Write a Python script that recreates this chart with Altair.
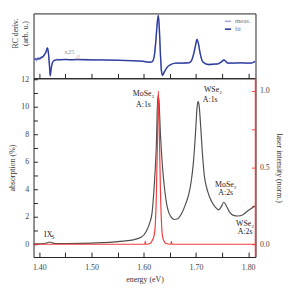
import altair as alt
import pandas as pd

# ---------------- data ----------------
E_MIN, E_MAX = 1.389, 1.814

# absorption (%) - grey curve
E_ABS = [1.389, 1.400, 1.410, 1.415, 1.420, 1.425, 1.430, 1.450, 1.480, 1.500,
         1.520, 1.540, 1.560, 1.580, 1.595, 1.605, 1.611, 1.616, 1.620, 1.624,
         1.627, 1.629, 1.632, 1.636, 1.640, 1.644, 1.648, 1.653, 1.658, 1.665,
         1.672, 1.680, 1.686, 1.691, 1.695, 1.699, 1.702, 1.704, 1.706, 1.709,
         1.712, 1.716, 1.722, 1.730, 1.737, 1.743, 1.748, 1.7535, 1.758, 1.764,
         1.772, 1.780, 1.790, 1.800, 1.808, 1.814]
ABS = [0.02, 0.03, 0.05, 0.10, 0.16, 0.10, 0.05, 0.05, 0.06, 0.08,
       0.11, 0.15, 0.22, 0.32, 0.50, 0.95, 1.50, 2.30, 4.20, 7.00,
       10.8, 10.5, 8.00, 5.60, 4.00, 2.90, 2.30, 1.95, 1.80, 1.85,
       2.20, 2.90, 3.60, 4.60, 5.90, 8.00, 9.90, 10.40, 10.10, 8.60,
       6.80, 5.00, 3.90, 3.10, 2.70, 2.50, 2.70, 3.05, 2.80, 2.35,
       2.10, 2.05, 2.15, 2.45, 2.65, 2.80]

# laser intensity (norm.) - red curve
E_LASER = [1.389, 1.600, 1.602, 1.603, 1.604, 1.606, 1.612, 1.617, 1.620, 1.622,
           1.624, 1.626, 1.628, 1.630, 1.632, 1.634, 1.636, 1.639, 1.643, 1.650,
           1.652, 1.653, 1.654, 1.656, 1.700, 1.814]
LASER = [0.0, 0.0, 0.0, 0.02, 0.0, 0.0, 0.005, 0.03, 0.06, 0.12,
         0.30, 0.62, 1.00, 0.70, 0.35, 0.14, 0.05, 0.02, 0.005, 0.0,
         0.0, 0.02, 0.0, 0.0, 0.0, 0.0]

# RC derivative (arb. u.) - top panel
E_RC = [1.389, 1.392, 1.395, 1.398, 1.401, 1.404, 1.407, 1.410, 1.413, 1.4155,
        1.417, 1.4185, 1.420, 1.421, 1.4225, 1.425, 1.428, 1.433, 1.440, 1.450,
        1.460, 1.474, 1.500, 1.536, 1.570, 1.600, 1.611, 1.616, 1.620, 1.623,
        1.626, 1.628, 1.630, 1.632, 1.634, 1.636, 1.639, 1.645, 1.652, 1.661,
        1.675, 1.686, 1.691, 1.695, 1.699, 1.702, 1.705, 1.708, 1.711, 1.714,
        1.723, 1.735, 1.742, 1.748, 1.7536, 1.757, 1.761, 1.775, 1.786, 1.795,
        1.805, 1.810, 1.814]
RC_FIT = [0.5, 0.5, 0.5, 0.8, 1.2, 2.0, 3.2, 5.0, 8.0, 12.0,
          9.0, 1.0, -10.0, -16.5, -10.0, -3.5, -1.2, -0.4, 0.0, 0.0,
          0.0, 0.0, -0.3, -0.5, -1.0, -1.8, -2.7, -2.2, 3.0, 18.0,
          38.0, 45.0, 30.0, 5.0, -12.0, -16.0, -13.0, -7.7, -5.0, -3.7,
          -3.5, -3.3, -1.5, 4.5, 14.0, 20.7, 15.5, 6.5, 0.0, -2.7,
          -5.0, -4.6, -4.3, -2.6, -0.4, -1.8, -3.6, -3.5, -3.3, -3.5,
          -3.6, -2.8, -1.7]
RC_MEAS = [-0.8, 1.6, -1.2, 2.0, 0.2, 2.8, 2.4, 5.5, 7.6, 12.0,
           9.0, 1.0, -10.0, -16.5, -10.0, -3.5, -1.0, 0.3, -0.4, 0.6,
           -0.5, 0.4, -0.3, -0.5, -1.0, -1.8, -2.7, -2.2, 3.0, 18.0,
           38.0, 45.0, 30.0, 5.0, -12.0, -16.0, -13.0, -7.7, -5.0, -3.7,
           -3.5, -3.3, -1.5, 4.5, 14.0, 20.7, 15.5, 6.5, 0.0, -2.7,
           -5.0, -4.6, -4.3, -2.6, -0.4, -1.8, -3.6, -3.5, -3.3, -3.5,
           -3.6, -2.8, -1.7]

# annotations
LAB_TEXT = ["MoSe\u2082", "A:1s", "WSe\u2082", "A:1s", "MoSe\u2082", "A:2s", "WSe\u2082", "A:2s", "IX"]
LAB_E = [1.5995, 1.5995, 1.7324, 1.7273, 1.757, 1.757, 1.794, 1.794, 1.4172]
LAB_Y = [10.9, 10.15, 11.2, 10.45, 4.3, 3.7, 1.45, 0.85, 0.67]
SUB_TEXT = ["S"]
SUB_E = [1.4262]
SUB_Y = [0.5]

X_TICKS = [1.40, 1.45, 1.50, 1.55, 1.60, 1.65, 1.70, 1.75, 1.80]
Y_TICKS = list(range(0, 13))
R_TICKS = [0.0, 0.25, 0.5, 0.75, 1.0]

SERIES = ["meas.", "fit"]
SCALE_NOTE = ["x25"]
SCALE_NOTE_E = [1.4576]
SCALE_NOTE_Y = [7.5]
BREAK_E = [1.4736]
BREAK_Y = [0.8]

# ---------------- styles ----------------
FONT = "Liberation Serif"
GREY = "#4f4f4f"
RED = "#f03c3c"
BLUE = "#2c3a9a"
LIGHT_BLUE = "#a5aee0"

W = 226
H_TOP = 66
H_BOT = 182

xs = alt.Scale(domain=[E_MIN, E_MAX], nice=False, zero=False)
ys_abs = alt.Scale(domain=[-0.93, 12.07], nice=False, zero=False)
ys_las = alt.Scale(domain=[-0.083, 1.083], nice=False, zero=False)
ys_rc = alt.Scale(domain=[-19, 47], nice=False, zero=False)

x_axis_bot = alt.Axis(values=X_TICKS, offset=-5, tickSize=5, domain=False,
                      labelExpr="(round(datum.value*20) % 2 == 0) ? format(datum.value, '.2f') : ''",
                      labelPadding=7, titlePadding=4, title="energy (eV)",
                      labelFlush=False, labelOverlap=False)
x_axis_top = alt.Axis(values=X_TICKS, offset=-5, tickSize=5, domain=False,
                      labels=False, title=None)
y_axis_top = alt.Axis(title=["RC deriv.", "(arb. u.)"], labels=False, ticks=False,
                      domain=False, titlePadding=4, titleLineHeight=10, titleY=20)

def xb():
    return alt.X("e:Q", scale=xs, axis=x_axis_bot)

def xt():
    return alt.X("e:Q", scale=xs, axis=x_axis_top)

def yt(field):
    return alt.Y(field, scale=ys_rc, axis=y_axis_top)

# ---------------- top panel ----------------
rc_df = pd.DataFrame({
    "e": E_RC * 2,
    "v": RC_MEAS + RC_FIT,
    "series": ["meas."] * len(E_RC) + ["fit"] * len(E_RC),
})
color = alt.Color("series:N",
                  scale=alt.Scale(domain=SERIES, range=[LIGHT_BLUE, BLUE]),
                  legend=alt.Legend(title=None, orient="top-right", offset=4,
                                    symbolType="stroke", symbolSize=40,
                                    symbolStrokeWidth=1.6, labelFontSize=7,
                                    labelColor="#777", labelFont=FONT,
                                    rowPadding=0, labelOffset=3, padding=0))

meas = alt.Chart(rc_df).transform_filter("datum.series == 'meas.'").mark_line(
    strokeWidth=1.6, interpolate="monotone", clip=True).encode(x=xt(), y=yt("v:Q"), color=color)
fit = alt.Chart(rc_df).transform_filter("datum.series == 'fit'").mark_line(
    strokeWidth=1.3, interpolate="monotone", clip=True).encode(x=xt(), y=yt("v:Q"), color=color)

note_df = pd.DataFrame({"e": SCALE_NOTE_E, "v": SCALE_NOTE_Y, "t": SCALE_NOTE})
note = alt.Chart(note_df).mark_text(fontSize=7, color="#999", font=FONT).encode(
    x=xt(), y=yt("v:Q"), text="t:N")
brk_df = pd.DataFrame({"e": BREAK_E, "v": BREAK_Y, "t": ["//"]})
brk = alt.Chart(brk_df).mark_text(fontSize=8, color="#888", font=FONT).encode(
    x=xt(), y=yt("v:Q"), text="t:N")

top = alt.layer(meas, fit, note, brk).properties(width=W, height=H_TOP)

# ---------------- bottom panel ----------------
abs_df = pd.DataFrame({"e": E_ABS, "a": ABS})
las_df = pd.DataFrame({"e": E_LASER, "l": LASER})
lab_df = pd.DataFrame({"e": LAB_E, "a": LAB_Y, "t": LAB_TEXT})
sub_df = pd.DataFrame({"e": SUB_E, "a": SUB_Y, "t": SUB_TEXT})
edge_df = pd.DataFrame({"e": [E_MAX]})

grey = alt.Chart(abs_df).mark_line(color=GREY, strokeWidth=1.2, interpolate="monotone", clip=True).encode(
    x=xb(),
    y=alt.Y("a:Q", scale=ys_abs,
            axis=alt.Axis(orient="left", values=Y_TICKS, offset=-4, tickSize=4, domain=False,
                          labelExpr="(datum.value % 2 == 0) ? format(datum.value, 'd') : ''",
                          labelPadding=5, titlePadding=4, title="absorption (%)",
                          labelFlush=False, labelOverlap=False)))
labels = alt.Chart(lab_df).mark_text(fontSize=8, color="#222", font=FONT, baseline="middle").encode(
    x=xb(), y=alt.Y("a:Q", scale=ys_abs, axis=None), text="t:N")
subs = alt.Chart(sub_df).mark_text(fontSize=5.5, color="#222", font=FONT, baseline="middle").encode(
    x=xb(), y=alt.Y("a:Q", scale=ys_abs, axis=None), text="t:N")
red = alt.Chart(las_df).mark_line(color=RED, strokeWidth=1.2, interpolate="monotone", clip=True).encode(
    x=xb(),
    y=alt.Y("l:Q", scale=ys_las,
            axis=alt.Axis(orient="right", values=R_TICKS, offset=-4, tickSize=4, domain=False,
                          tickColor=RED,
                          labelExpr="(round(datum.value*4) % 2 == 0) ? format(datum.value, '.1f') : ''",
                          labelPadding=4, titlePadding=5, title="laser intensity (norm.)",
                          labelFlush=False, labelOverlap=False)))
edge = alt.Chart(edge_df).mark_rule(color=RED, strokeWidth=1.5).encode(x=xb())

bottom = alt.layer(grey, labels, subs, red, edge).resolve_scale(y="independent").properties(
    width=W, height=H_BOT)

chart = alt.vconcat(top, bottom, spacing=0, bounds="flush").resolve_legend(
    color="independent").properties(
    padding={"left": 0, "top": 2, "right": 0, "bottom": 0}
).configure_axis(
    labelFont=FONT, titleFont=FONT, labelFontSize=8, titleFontSize=8, grid=False,
    labelColor="#444", titleColor="#333", titleFontWeight="normal",
    tickColor="#222", domainColor="#222"
).configure_view(stroke="#222", strokeWidth=1).configure_text(font=FONT)

chart.save("out.html", embed_options={"renderer": "svg", "actions": False})
